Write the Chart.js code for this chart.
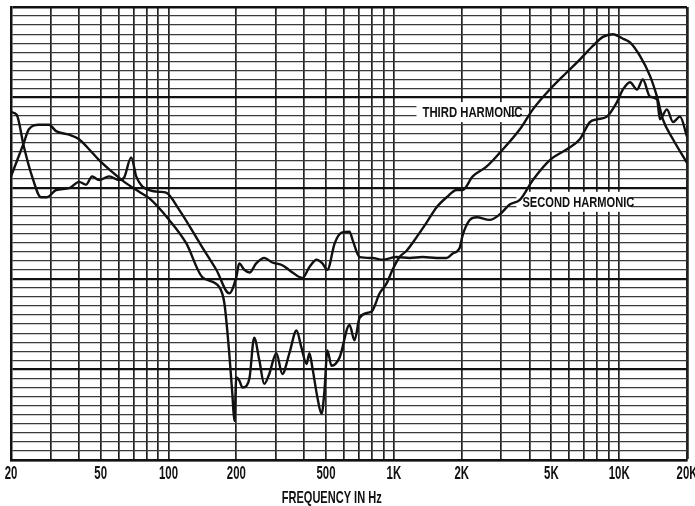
<!DOCTYPE html>
<html>
<head>
<meta charset="utf-8">
<script src="https://cdn.jsdelivr.net/npm/chart.js@4/dist/chart.umd.min.js"></script>
<style>
    body { margin: 0; background: #fff; }
    #wrap { width: 695px; height: 506px; position: relative; }
</style>
</head>
<body>
<div id="wrap"><canvas id="chart"></canvas></div>
<script>
// Frequency axis labels
const tickValues = [20, 50, 100, 200, 500, 1000, 2000, 5000, 10000, 20000];
const tickLabels = ['20', '50', '100', '200', '500', '1K', '2K', '5K', '10K', '20K'];

// Second harmonic (Hz, relative level)
const secondFreq = [20, 21.2, 22.8, 24.8, 27.2, 28.9, 31.7, 36.2, 40.1, 43.1, 45.8, 49.2, 54.5, 60.4, 63.6, 68.3, 71.9, 76.4, 82.1, 90.9,
    97.6, 111.6, 141, 163, 186, 200, 206, 217, 229, 245, 266, 289, 320, 355, 393, 422, 454, 482, 507, 546,
    586, 636, 656, 705, 804, 891, 1028, 1175, 1342, 1549, 1716, 1825, 1959, 2019, 2172, 2333, 2663, 2951, 3267, 3624,
    4141, 4923, 5862, 6688, 7413, 7962, 8815, 9774, 10398, 11170, 12000, 12740, 13700, 14720, 15170, 16290, 17330, 18620, 20000];
const secondLevel = [38.4, 38.1, 34.6, 31.3, 29.0, 29.0, 29.8, 30.0, 30.7, 30.4, 31.3, 30.9, 31.3, 30.9, 31.2, 33.4, 31.3, 30.2, 29.8, 29.6,
    29.5, 27.6, 23.5, 21.0, 18.4, 20.2, 21.7, 21.0, 20.7, 21.7, 22.3, 21.8, 21.5, 20.7, 20.1, 21.3, 22.1, 21.7, 21.0, 23.9,
    25.1, 25.2, 24.3, 22.4, 22.3, 22.1, 22.4, 22.3, 22.4, 22.3, 22.3, 22.8, 23.4, 24.8, 26.5, 26.8, 26.5, 27.1, 28.2, 28.7,
    30.9, 33.1, 34.3, 35.4, 37.3, 37.6, 37.9, 39.5, 40.9, 41.7, 40.9, 42.0, 40.1, 39.8, 37.6, 38.7, 37.3, 37.9, 35.7];

// Third harmonic (Hz, relative level)
const thirdFreq = [20, 22.8, 24.0, 26.6, 29.5, 31.7, 36.2, 40.1, 44.4, 49.2, 56.2, 63.6, 74.1, 82.1, 100.7, 120, 141, 168, 177, 186,
    192, 196, 200, 206, 213, 222, 229, 240, 253, 266, 280, 301, 320, 344, 370, 389, 410, 422, 435, 458,
    478, 492, 507, 529, 574, 636, 669, 705, 780, 804, 865, 929, 987, 1060, 1139, 1262, 1397, 1549, 1716, 1901,
    2019, 2239, 2584, 2951, 3624, 4141, 4923, 5862, 6688, 7640, 8470, 9380, 10398, 11170, 12366, 13700, 14720, 15630, 17330, 20000];
const thirdLevel = [31.3, 35.0, 36.5, 37.0, 37.0, 36.3, 35.9, 35.4, 34.3, 33.1, 31.8, 30.7, 29.6, 28.9, 26.5, 23.9, 20.2, 19.1, 17.3, 11.8,
    7.3, 4.3, 9.1, 8.8, 8.0, 8.2, 9.1, 13.5, 11.0, 8.4, 9.5, 11.8, 9.5, 11.8, 14.3, 12.4, 10.6, 11.8, 10.2, 6.9,
    5.1, 7.6, 12.1, 10.4, 11.3, 14.9, 13.2, 15.7, 16.3, 16.5, 18.4, 19.5, 21.0, 22.4, 23.1, 24.6, 26.2, 27.9, 29.0, 29.8,
    29.8, 31.3, 32.4, 33.9, 36.5, 38.7, 40.9, 42.8, 44.2, 45.7, 46.7, 47.0, 46.5, 46.1, 44.6, 42.4, 40.1, 37.6, 35.4, 32.8];

const FONT = "'Liberation Sans', Arial, sans-serif";

// grid lines on every 1-9 step of each decade
const gridFreqs = [];
for (let d = 10; d <= 10000; d *= 10) {
    for (let m = 1; m <= 9; m++) {
        const v = m * d;
        if (v >= 20 && v <= 20000) gridFreqs.push(v);
    }
}
gridFreqs.push(20000);

// curve labels, anchored in data units
const curveLabels = [
    { text: 'THIRD HARMONIC', freq: 1340, level: 38.4, width: 100, boxLeft: 1260, boxRight: 3250 },
    { text: 'SECOND HARMONIC', freq: 3720, level: 28.5, width: 112, boxLeft: 3500, boxRight: 11300 }
];

// the scanned lettering is tall and narrow, so squash a bold face sideways
function squashText(ctx, text, x, y, size, xScale, align) {
    ctx.save();
    ctx.font = 'bold ' + size + 'px ' + FONT;
    ctx.textBaseline = 'middle';
    ctx.textAlign = align;
    ctx.translate(x, y);
    ctx.scale(xScale, 1);
    ctx.fillText(text, 0, 0);
    ctx.restore();
}

function fitScale(ctx, text, size, width) {
    ctx.save();
    ctx.font = 'bold ' + size + 'px ' + FONT;
    const w = ctx.measureText(text).width;
    ctx.restore();
    return width / w;
}

const textPlugin = {
    id: 'textPlugin',
    beforeDatasetsDraw(chart) {
        const { ctx, scales: { x, y } } = chart;
        ctx.save();
        curveLabels.forEach(l => {
            const yc = y.getPixelForValue(l.level);
            const x0 = x.getPixelForValue(l.boxLeft);
            const x1 = x.getPixelForValue(l.boxRight);
            ctx.fillStyle = '#fff';
            ctx.fillRect(x0, yc - 10, x1 - x0, 20);
            ctx.fillStyle = '#111';
            const s = fitScale(ctx, l.text, 15, l.width);
            squashText(ctx, l.text, x.getPixelForValue(l.freq), yc + 1, 15, s, 'left');
        });
        ctx.restore();
    },
    afterDraw(chart) {
        const { ctx, scales: { x } } = chart;
        ctx.save();
        ctx.fillStyle = '#111';
        const bottom = x.bottom;
        tickValues.forEach((v, i) => {
            squashText(ctx, tickLabels[i], x.getPixelForValue(v), bottom + 14, 19, 0.6, 'center');
        });
        const title = 'FREQUENCY IN Hz';
        squashText(ctx, title, x.getPixelForValue(530), bottom + 38, 17, fitScale(ctx, title, 17, 100), 'center');
        ctx.restore();
    }
};

const toPoints = (fs, ls) => fs.map((f, i) => ({ x: f, y: ls[i] }));

new Chart(document.getElementById('chart'), {
    type: 'line',
    data: {
        datasets: [{
            label: 'Second harmonic',
            data: toPoints(secondFreq, secondLevel),
            borderColor: '#111',
            borderWidth: 2.4,
            pointRadius: 0,
            cubicInterpolationMode: 'monotone'
        }, {
            label: 'Third harmonic',
            data: toPoints(thirdFreq, thirdLevel),
            borderColor: '#111',
            borderWidth: 2.4,
            pointRadius: 0,
            cubicInterpolationMode: 'monotone'
        }]
    },
    options: {
        responsive: true,
        maintainAspectRatio: false,
        animation: false,
        layout: { padding: { left: 11, right: 8, top: 7, bottom: 46 } },
        plugins: {
            legend: { display: false },
            tooltip: { enabled: false }
        },
        scales: {
            x: {
                type: 'logarithmic',
                min: 20,
                max: 20000,
                afterBuildTicks: (scale) => {
                    scale.ticks = gridFreqs.map(v => ({ value: v }));
                },
                grid: {
                    color: '#222',
                    lineWidth: (c) => (c.tick && c.tick.value === 20000) ? 2.5 : 1.7,
                    drawTicks: false
                },
                border: { color: '#111', width: 2.5 },
                ticks: { display: false }
            },
            y: {
                min: 0,
                max: 50,
                grid: {
                    color: (c) => (c.tick && c.tick.value % 10 === 0) ? '#111' : '#3a3a3a',
                    lineWidth: (c) => {
                        if (!c.tick) return 1.3;
                        if (c.tick.value === 50) return 2.5;
                        return c.tick.value % 10 === 0 ? 2.2 : 1.3;
                    },
                    drawTicks: false
                },
                border: { color: '#111', width: 2.5 },
                ticks: { display: false, stepSize: 1, maxTicksLimit: 60 }
            }
        }
    },
    plugins: [textPlugin]
});
</script>
</body>
</html>
